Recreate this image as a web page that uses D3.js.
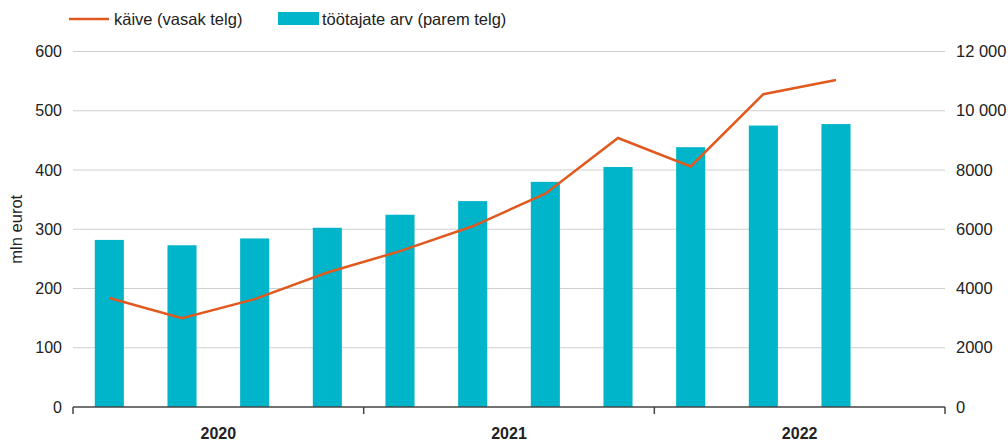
<!DOCTYPE html>
<html>
<head>
<meta charset="utf-8">
<script src="https://cdn.jsdelivr.net/npm/d3@7"></script>
<style>
  body { margin: 0; background: #fff; }
  text { font-family: "Liberation Sans", Arial, sans-serif; fill: #222; }
</style>
</head>
<body>
<div id="chart"></div>
<script>
// quarters 2020 Q1 .. 2022 Q4 (last one empty)
let quarters = ["2020Q1","2020Q2","2020Q3","2020Q4","2021Q1","2021Q2","2021Q3","2021Q4","2022Q1","2022Q2","2022Q3","2022Q4"];
let years = ["2020","2021","2022"];
let kaive = [184, 150, 182, 227, 263, 305, 360, 454, 406, 528, 552];
let tootajad = [5640, 5460, 5690, 6050, 6490, 6950, 7600, 8100, 8770, 9500, 9550];
let leftTicks = [0, 100, 200, 300, 400, 500, 600];
let rightTicks = [0, 2000, 4000, 6000, 8000, 10000, 12000];

var width = 1008, height = 442;
var plotLeft = 73, plotRight = 945, plotTop = 51.5, plotBottom = 407;

var svg = d3.select("#chart").append("svg")
    .attr("width", width)
    .attr("height", height);

var x = d3.scaleBand()
    .domain(quarters)
    .range([plotLeft, plotRight])
    .paddingInner(0.6)
    .paddingOuter(0.3);

var yL = d3.scaleLinear().domain([0, 600]).range([plotBottom, plotTop]);
var yR = d3.scaleLinear().domain([0, 12000]).range([plotBottom, plotTop]);

// gridlines
svg.append("g")
    .selectAll("line")
    .data(leftTicks.slice(1))
    .enter()
    .append("line")
        .attr("x1", plotLeft)
        .attr("x2", plotRight)
        .attr("y1", function(d) { return yL(d); })
        .attr("y2", function(d) { return yL(d); })
        .attr("stroke", "#cfcfcf")
        .attr("stroke-width", 1);

// left axis labels
svg.append("g")
    .selectAll("text")
    .data(leftTicks)
    .enter()
    .append("text")
        .attr("x", 62)
        .attr("y", function(d) { return yL(d) + 5.5; })
        .attr("text-anchor", "end")
        .style("font-size", "16px")
        .text(function(d) { return d; });

// right axis labels
var fmt = function(d) { return d >= 10000 ? d3.format(",")(d).replace(",", " ") : String(d); };
svg.append("g")
    .selectAll("text")
    .data(rightTicks)
    .enter()
    .append("text")
        .attr("x", 956)
        .attr("y", function(d) { return yR(d) + 5.5; })
        .style("font-size", "16.5px")
        .text(fmt);

svg.append("text")
    .attr("transform", "translate(22," + yL(300) + ")rotate(-90)")
    .attr("text-anchor", "middle")
    .style("font-size", "16.5px")
    .text("mln eurot");

// bars
svg.selectAll(".bar")
    .data(tootajad)
    .enter()
    .append("rect")
        .attr("class", "bar")
        .attr("x", function(d, i) { return x(quarters[i]); })
        .attr("y", function(d) { return yR(d); })
        .attr("width", x.bandwidth())
        .attr("height", function(d) { return yR(0) - yR(d); })
        .attr("fill", "#00b4c9");

// line
var line = d3.line()
    .x(function(d, i) { return x(quarters[i]) + x.bandwidth() / 2; })
    .y(function(d) { return yL(d); });
svg.append("path")
    .datum(kaive)
    .attr("d", line)
    .attr("fill", "none")
    .attr("stroke", "#e05a1f")
    .attr("stroke-width", 2.5);

// bottom axis
var yearEdges = [0, 4, 8, 12].map(function(i) {
    return i < 12 ? x(quarters[i]) - x.step() * x.paddingOuter() : plotRight;
});
svg.append("line")
    .attr("x1", plotLeft).attr("x2", plotRight)
    .attr("y1", plotBottom).attr("y2", plotBottom)
    .attr("stroke", "#444").attr("stroke-width", 1.5);
svg.append("g")
    .selectAll("line")
    .data(yearEdges)
    .enter()
    .append("line")
        .attr("x1", function(d) { return d; })
        .attr("x2", function(d) { return d; })
        .attr("y1", plotBottom)
        .attr("y2", plotBottom + 7)
        .attr("stroke", "#444")
        .attr("stroke-width", 1.5);
svg.append("g")
    .selectAll("text")
    .data(years)
    .enter()
    .append("text")
        .attr("x", function(d, i) { return (yearEdges[i] + yearEdges[i + 1]) / 2; })
        .attr("y", 439)
        .attr("text-anchor", "middle")
        .style("font-size", "16px")
        .style("font-weight", "bold")
        .text(function(d) { return d; });

// legend
svg.append("line")
    .attr("x1", 69).attr("x2", 109)
    .attr("y1", 19).attr("y2", 19)
    .attr("stroke", "#e05a1f").attr("stroke-width", 2.5);
svg.append("text")
    .attr("x", 114).attr("y", 25)
    .style("font-size", "16.5px")
    .text("käive (vasak telg)");
svg.append("rect")
    .attr("x", 278).attr("y", 12)
    .attr("width", 41).attr("height", 13)
    .attr("fill", "#00b4c9");
svg.append("text")
    .attr("x", 322).attr("y", 25)
    .style("font-size", "16.5px")
    .text("töötajate arv (parem telg)");
</script>
</body>
</html>
